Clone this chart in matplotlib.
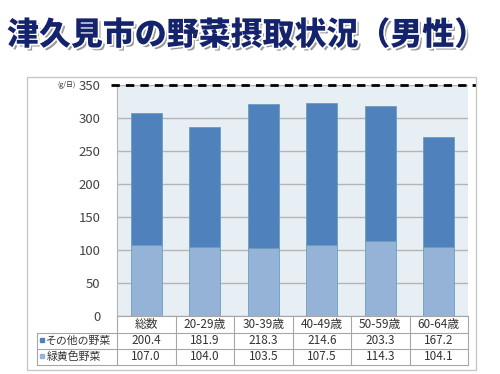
import matplotlib
matplotlib.use('Agg')
import matplotlib.pyplot as plt
import matplotlib.patheffects as pe
from matplotlib.transforms import blended_transform_factory
from matplotlib.patches import Rectangle
import numpy as np

plt.rcParams['font.family'] = ['Noto Sans CJK JP', 'DejaVu Sans']

title = '津久見市の野菜摂取状況（男性）'
categories = ['総数', '20-29歳', '30-39歳', '40-49歳', '50-59歳', '60-64歳']
series_names = ['その他の野菜', '緑黄色野菜']
other_veg = [200.4, 181.9, 218.3, 214.6, 203.3, 167.2]
green_yellow_veg = [107.0, 104.0, 103.5, 107.5, 114.3, 104.1]
target = 350
yticks = [0, 50, 100, 150, 200, 250, 300, 350]

c_other = '#4f81bd'
c_green = '#95b3d7'
c_edge = '#6b9fba'
c_line = '#a6a6a6'

W, H = 500, 374
fig = plt.figure(figsize=(W / 100, H / 100), dpi=100)

# outer chart frame
fig.patches.append(Rectangle((27 / W, 1 - 370 / H), (476 - 27) / W, (370 - 77) / H,
                             transform=fig.transFigure, fill=False,
                             edgecolor='#c8c8c8', lw=1.0))

fig.text(7 / W, 1 - 35 / H, title, fontsize=23, fontweight='black', color='#14236b',
         ha='left', va='center',
         path_effects=[pe.withSimplePatchShadow(offset=(2, -2), shadow_rgbFace='#555555', alpha=0.6),
                       pe.Stroke(linewidth=2.5, foreground='white'), pe.Normal()])

ax_l, ax_r, ax_t, ax_b = 117, 468, 85, 316
ax = fig.add_axes([ax_l / W, 1 - ax_b / H, (ax_r - ax_l) / W, (ax_b - ax_t) / H])
ax.set_facecolor('#e8eff4')

x = np.arange(len(categories))
ax.bar(x, green_yellow_veg, width=0.53, color=c_green, edgecolor=c_edge, lw=0.6, zorder=3)
ax.bar(x, other_veg, width=0.53, bottom=green_yellow_veg, color=c_other, edgecolor=c_edge,
       lw=0.6, zorder=3)

ax.set_xlim(-0.5, len(categories) - 0.5)
ax.set_ylim(0, 350)
ax.set_yticks(yticks)
ax.tick_params(axis='y', length=0, pad=12, labelsize=9.5, labelcolor='#444444')
ax.set_xticks([])
ax.yaxis.grid(True, color='#b4b4b4', lw=1.0, zorder=1)
for s in ['top', 'right', 'bottom']:
    ax.spines[s].set_visible(False)
ax.spines['left'].set_color('#b4b4b4')

ax.axhline(target, xmin=(111 - ax_l) / (ax_r - ax_l), xmax=(476 - ax_l) / (ax_r - ax_l),
           color='black', lw=2.0, ls=(0, (3, 2.2)), clip_on=False, zorder=5)

ax.text(-0.5 - 60 / 58.5, 350, '(g/日)', fontsize=5, ha='left', va='center', color='#333333')

# data table under the chart
tr = blended_transform_factory(ax.transData, ax.transAxes)
ph = ax_b - ax_t
row_y = [0, -(333 - ax_b) / ph, -(349 - ax_b) / ph, -(365 - ax_b) / ph]
x_left = -0.5 - 80 / 58.5
x_right = len(categories) - 0.5

ax.plot([-0.5, x_right], [row_y[0]] * 2, color=c_line, lw=0.8, transform=tr, clip_on=False)
for y in row_y[1:]:
    ax.plot([x_left, x_right], [y, y], color=c_line, lw=0.8, transform=tr, clip_on=False)
for xb in np.arange(-0.5, len(categories)):
    ax.plot([xb, xb], [row_y[0], row_y[3]], color=c_line, lw=0.8, transform=tr, clip_on=False)
ax.plot([x_left, x_left], [row_y[1], row_y[3]], color=c_line, lw=0.8, transform=tr, clip_on=False)

mid = [(row_y[i] + row_y[i + 1]) / 2 for i in range(3)]
for i, cat in enumerate(categories):
    ax.text(i, mid[0], cat, fontsize=8.5, ha='center', va='center', color='#333333', transform=tr)
for row, vals, col in [(1, other_veg, c_other), (2, green_yellow_veg, c_green)]:
    for i, v in enumerate(vals):
        ax.text(i, mid[row], f'{v:.1f}', fontsize=8.5, ha='center', va='center', color='#333333',
                transform=tr)
    ax.plot([x_left + 0.08], [mid[row] + 0.005], marker='s', ms=3.5, color=col, transform=tr,
            clip_on=False)
    ax.text(x_left + 0.16, mid[row], series_names[row - 1], fontsize=7.8, ha='left', va='center',
            color='#333333', transform=tr)

fig.savefig('out.png', dpi=100, facecolor='white')
